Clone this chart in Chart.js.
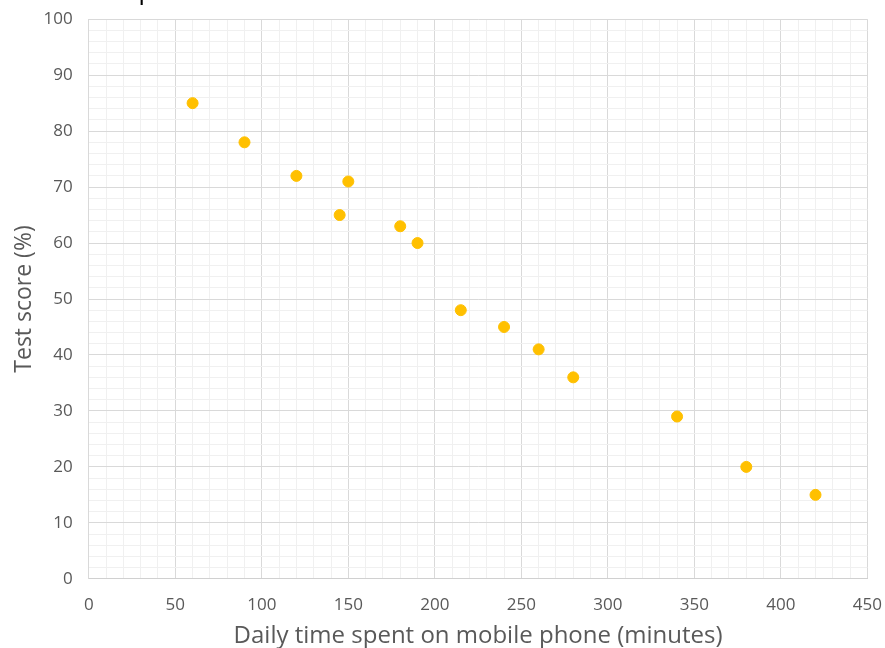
<!DOCTYPE html>
<html>
<head>
<meta charset="utf-8">
<script src="https://cdn.jsdelivr.net/npm/chart.js@4"></script>
<style>
html,body{margin:0;padding:0;background:#fff;overflow:hidden;}
#wrap{position:relative;width:885px;height:648px;overflow:hidden;}
#c{position:absolute;left:0;top:-7px;}
#cut{position:absolute;left:139px;top:-20px;font-family:"Liberation Sans",sans-serif;font-size:24px;color:#000;line-height:24px;}
</style>
</head>
<body>
<div id="wrap">
<canvas id="c" width="898" height="658"></canvas>
<span id="cut">p</span>
</div>
<script>
const minutes = [60, 90, 120, 150, 145, 180, 190, 215, 240, 260, 280, 340, 380, 420];
const scores  = [85, 78, 72, 71, 65, 63, 60, 48, 45, 41, 36, 29, 20, 15];
const xTitle = "Daily time spent on mobile phone (minutes)";
const yTitle = "Test score (%)";

const points = minutes.map((m, i) => ({x: m, y: scores[i]}));
const FONT = "'Open Sans', 'Liberation Sans', sans-serif";
const GREY = "#595959";

new Chart(document.getElementById('c'), {
  type: 'scatter',
  data: { datasets: [{
    data: points,
    backgroundColor: '#FFC000',
    borderColor: '#FFC000',
    pointRadius: 5.5,
    pointHoverRadius: 5.5
  }]},
  options: {
    responsive: false,
    animation: false,
    devicePixelRatio: 1,
    layout: { padding: { left: 11, right: 0, top: 8, bottom: 0 } },
    plugins: { legend: { display: false }, tooltip: { enabled: false } },
    scales: {
      x: {
        type: 'linear', min: 0, max: 450,
        border: { display: true, color: '#d0d0d0' },
        grid: {
          color: ctx => (ctx.tick && ctx.tick.value % 50 === 0) ? '#d9d9d9' : '#f0f0f0',
          lineWidth: 1, drawTicks: false
        },
        ticks: {
          stepSize: 10, autoSkip: false, maxRotation: 0, maxTicksLimit: 100,
          padding: 16, color: GREY, font: { family: FONT, size: 17 },
          callback: v => (v % 50 === 0 ? String(v) : '')
        },
        title: { display: true, text: xTitle, color: GREY, font: { family: FONT, size: 24 }, padding: { top: -9, bottom: 0 } }
      },
      y: {
        type: 'linear', min: 0, max: 100,
        border: { display: true, color: '#d9d9d9' },
        grid: {
          color: ctx => (ctx.tick && ctx.tick.value % 10 === 0) ? '#d9d9d9' : '#f0f0f0',
          lineWidth: 1, drawTicks: false
        },
        ticks: {
          stepSize: 2, autoSkip: false, maxTicksLimit: 100,
          padding: 16, color: GREY, font: { family: FONT, size: 17 },
          callback: v => (v % 10 === 0 ? String(v) : '')
        },
        title: { display: true, text: yTitle, color: GREY, font: { family: FONT, size: 23 }, padding: { top: 0, bottom: -11 } }
      }
    }
  }
});
</script>
</body>
</html>
